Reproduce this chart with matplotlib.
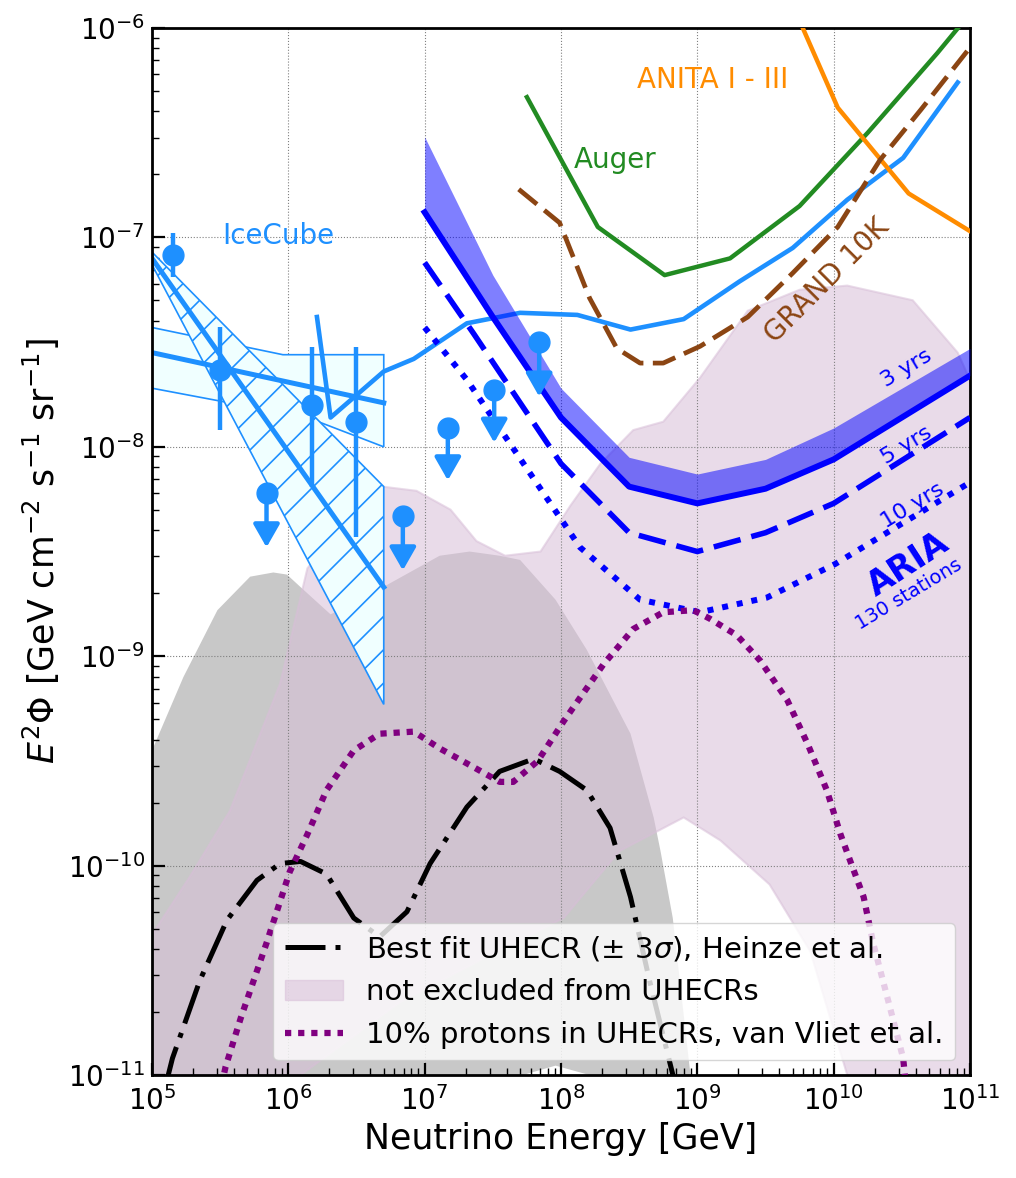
import numpy as np
import matplotlib
matplotlib.use('Agg')
import matplotlib.pyplot as plt
from matplotlib.patches import Patch
from matplotlib.lines import Line2D
from matplotlib import ticker

# values
# x: log10(E / GeV), y: log10(E^2 Phi / GeV cm^-2 s^-1 sr^-1)

#---------------- background regions ----------------
gray_top_x = [5.00, 5.23, 5.48, 5.72, 5.89, 5.99, 6.09, 6.31, 6.53, 6.75, 7.11, 7.33, 7.55, 7.70, 7.96, 8.19, 8.51, 8.68, 8.73, 8.82, 8.95]
gray_top_y = [-9.45, -9.10, -8.78, -8.62, -8.60, -8.61, -8.67, -8.80, -8.73, -8.65, -8.52, -8.50, -8.52, -8.54, -8.73, -8.97, -9.37, -9.77, -9.93, -10.25, -11.0]
gray_bot_x = [9.00, 8.25, 8.21, 7.96, 7.72, 7.68, 5.00]
gray_bot_y = [-11.3, -11.1, -11.0, -10.955, -11.0, -11.1, -11.3]

uhecr_top_x = [5.00, 5.28, 5.57, 5.94, 6.14, 6.42, 6.69, 6.94, 7.19, 7.38, 7.59, 7.85, 8.07, 8.29, 8.53, 8.75, 9.02, 9.37, 9.75, 10.10, 10.58, 10.91, 11.00]
uhecr_top_y = [-10.33, -10.05, -9.74, -9.13, -8.58, -8.35, -8.19, -8.21, -8.30, -8.45, -8.52, -8.50, -8.28, -8.08, -7.92, -7.88, -7.67, -7.35, -7.25, -7.23, -7.30, -7.55, -7.68]
uhecr_bot_x = [11.00, 10.15, 10.10, 9.83, 9.53, 9.17, 8.90, 8.43, 8.02, 7.41, 6.82, 6.09, 6.00, 5.00]
uhecr_bot_y = [-12.0, -11.3, -11.0, -10.41, -10.09, -9.88, -9.77, -9.93, -10.25, -10.45, -10.65, -11.0, -11.3, -12.0]

#---------------- IceCube ----------------
steep_x = [5.0, 6.7, 6.7, 5.0]
steep_y = [-7.07, -8.19, -9.23, -7.13]
steep_fit_x = [5.0, 6.7]
steep_fit_y = [-7.10, -8.67]

flat_x = [5.0, 5.96, 6.7, 6.7, 6.14, 5.0]
flat_y = [-7.43, -7.56, -7.56, -8.00, -7.86, -7.72]
flat_fit_x = [5.0, 6.7]
flat_fit_y = [-7.55, -7.79]

pts_x = [5.154, 5.50, 6.17, 6.50]
pts_y = [-7.085, -7.635, -7.80, -7.88]
pts_hi = [-6.98, -7.43, -7.525, -7.525]
pts_lo = [-7.19, -7.92, -8.19, -8.43]

ul_x = [5.84, 6.84, 7.17, 7.51, 7.84]
ul_y = [-8.22, -8.33, -7.91, -7.73, -7.50]
ul_tip = [-8.48, -8.59, -8.16, -7.98, -7.76]

ic_x = [6.21, 6.31, 6.70, 6.92, 7.31, 7.70, 8.12, 8.51, 8.90, 9.31, 9.70, 10.10, 10.51, 10.91]
ic_y = [-7.38, -7.86, -7.64, -7.58, -7.41, -7.36, -7.37, -7.44, -7.39, -7.21, -7.05, -6.82, -6.62, -6.26]

#---------------- other experiments ----------------
auger_x = [7.75, 8.27, 8.76, 9.24, 9.75, 10.25, 10.76, 10.95]
auger_y = [-6.33, -6.95, -7.18, -7.10, -6.85, -6.50, -6.12, -5.97]

anita_x = [9.74, 10.03, 10.55, 11.0]
anita_y = [-5.95, -6.38, -6.79, -6.97]

grand_x = [7.69, 7.99, 8.21, 8.41, 8.58, 8.75, 9.02, 9.37, 9.70, 10.03, 10.34, 10.64, 10.98]
grand_y = [-6.77, -6.93, -7.29, -7.53, -7.60, -7.60, -7.52, -7.38, -7.17, -6.95, -6.63, -6.39, -6.11]

#---------------- ARIA ----------------
aria_x = [7.0, 7.5, 8.0, 8.5, 9.0, 9.5, 10.0, 11.0]
aria_3yr = [-6.88, -7.38, -7.86, -8.19, -8.27, -8.20, -8.06, -7.66]
aria_3yr_top = [-6.52, -7.18, -7.72, -8.05, -8.13, -8.06, -7.91, -7.53]
aria5_x = [7.0, 7.36, 8.0, 8.5, 9.0, 9.5, 10.0, 11.0]
aria_5yr = [-7.12, -7.46, -8.08, -8.41, -8.50, -8.41, -8.27, -7.86]
aria10_x = [7.0, 7.31, 8.14, 8.58, 9.02, 9.51, 10.01, 11.0]
aria_10yr = [-7.43, -7.68, -8.48, -8.73, -8.79, -8.72, -8.56, -8.17]

#---------------- UHECR models ----------------
bf_x = [5.10, 5.15, 5.35, 5.55, 5.77, 5.94, 6.09, 6.28, 6.48, 6.67, 6.87, 7.04, 7.31, 7.55, 7.80, 7.99, 8.19, 8.36, 8.51, 8.65, 8.84]
bf_y = [-11.05, -10.92, -10.55, -10.26, -10.07, -9.99, -9.98, -10.04, -10.25, -10.34, -10.22, -9.99, -9.72, -9.55, -9.49, -9.55, -9.64, -9.82, -10.15, -10.55, -11.05]

pp_x = [5.51, 5.54, 5.65, 5.84, 6.01, 6.14, 6.28, 6.48, 6.67, 6.92, 7.11, 7.36, 7.55, 7.65, 7.83, 8.02, 8.31, 8.53, 8.75, 8.97, 9.09, 9.29, 9.46, 9.66, 9.81, 9.95, 10.05, 10.14, 10.22, 10.29, 10.51, 10.53]
pp_y = [-11.05, -10.96, -10.73, -10.37, -10.03, -9.85, -9.64, -9.45, -9.37, -9.36, -9.44, -9.53, -9.60, -9.60, -9.50, -9.31, -9.04, -8.87, -8.79, -8.78, -8.82, -8.90, -9.02, -9.21, -9.42, -9.64, -9.85, -10.01, -10.15, -10.37, -10.92, -11.05]

x_ticks = [5, 6, 7, 8, 9, 10, 11]
y_ticks = [-11, -10, -9, -8, -7, -6]


def p(v):
    return 10.0 ** np.asarray(v, dtype=float)


plt.rcParams['font.size'] = 20
plt.rcParams['hatch.linewidth'] = 1.2

fig = plt.figure(figsize=(10.16, 11.78), dpi=100)
ax = fig.add_axes([0.1496, 0.0874, 0.8051, 0.8888])
ax.set_xscale('log')
ax.set_yscale('log')

# regions
ax.fill(p(gray_top_x + gray_bot_x), p(gray_top_y + gray_bot_y), color='#c8c8c8', lw=0, zorder=0.5)
ax.fill(p(uhecr_top_x + uhecr_bot_x), p(uhecr_top_y + uhecr_bot_y),
        facecolor='thistle', edgecolor='thistle', alpha=0.55, lw=1.5, zorder=0.6)

# IceCube
ax.fill(p(flat_x), p(flat_y), facecolor='azure', edgecolor='dodgerblue', lw=1.2, zorder=2)
ax.fill(p(steep_x), p(steep_y), facecolor='azure', edgecolor='dodgerblue', hatch='/', lw=1.2, zorder=2.1)
ax.plot(p(flat_fit_x), p(flat_fit_y), color='dodgerblue', lw=3.6, zorder=2.2)
ax.plot(p(steep_fit_x), p(steep_fit_y), color='dodgerblue', lw=3.6, zorder=2.2)
ax.plot(p(ic_x), p(ic_y), color='dodgerblue', lw=3.3, zorder=2.3)

yv = p(pts_y)
ax.errorbar(p(pts_x), yv, yerr=[yv - p(pts_lo), p(pts_hi) - yv], fmt='o', color='dodgerblue',
            ms=15, elinewidth=3.2, capsize=0, zorder=5)
ax.plot(p(ul_x), p(ul_y), 'o', color='dodgerblue', ms=15, zorder=5)
for x, y0, y1 in zip(ul_x, ul_y, ul_tip):
    ax.annotate('', xy=(10 ** x, 10 ** y1), xytext=(10 ** x, 10 ** y0),
                arrowprops=dict(arrowstyle='-|>,head_length=0.56,head_width=0.32', color='dodgerblue',
                                lw=3.2, mutation_scale=25, shrinkA=0, shrinkB=0), zorder=5)

# other experiments
ax.plot(p(auger_x), p(auger_y), color='forestgreen', lw=3.2, zorder=3)
ax.plot(p(anita_x), p(anita_y), color='darkorange', lw=3.2, zorder=3)
ax.plot(p(grand_x), p(grand_y), color='saddlebrown', lw=3.4, ls=(0, (5, 2)), zorder=3)

# ARIA
ax.fill_between(p(aria_x), p(aria_3yr), p(aria_3yr_top), color='blue', alpha=0.5, lw=0, zorder=3)
ax.plot(p(aria_x), p(aria_3yr), color='blue', lw=4.3, zorder=4)
ax.plot(p(aria5_x), p(aria_5yr), color='blue', lw=4.0, ls=(0, (5, 2)), zorder=4)
ax.plot(p(aria10_x), p(aria_10yr), color='blue', lw=4.3, ls=(0, (1, 1.5)), zorder=4)

# UHECR models
bf_dash = (0, (8, 2, 1, 2))
pp_dash = (0, (1, 1.1))
ax.plot(p(bf_x), p(bf_y), color='black', lw=3.6, ls=bf_dash, zorder=4)
ax.plot(p(pp_x), p(pp_y), color='purple', lw=4.5, ls=pp_dash, zorder=4)

# labels
ax.text(10 ** 5.924, 10 ** -6.994, 'IceCube', color='dodgerblue', ha='center', va='center', fontsize=20)
ax.text(10 ** 8.397, 10 ** -6.631, 'Auger', color='forestgreen', ha='center', va='center', fontsize=20)
ax.text(10 ** 9.116, 10 ** -6.249, 'ANITA I - III', color='darkorange', ha='center', va='center', fontsize=20)
ax.text(10 ** 9.952, 10 ** -7.205, 'GRAND 10K', color='saddlebrown', ha='center', va='center',
        fontsize=20, rotation=45, rotation_mode='anchor')
ax.text(10 ** 10.532, 10 ** -7.625, '3 yrs', color='blue', ha='center', va='center', fontsize=16,
        rotation=31, rotation_mode='anchor')
ax.text(10 ** 10.532, 10 ** -7.993, '5 yrs', color='blue', ha='center', va='center', fontsize=16,
        rotation=31, rotation_mode='anchor')
ax.text(10 ** 10.576, 10 ** -8.280, '10 yrs', color='blue', ha='center', va='center', fontsize=16,
        rotation=31, rotation_mode='anchor')
ax.text(10 ** 10.55, 10 ** -8.56, 'ARIA', color='blue', ha='center', va='center', fontsize=24,
        fontweight='bold', rotation=33, rotation_mode='anchor')
ax.text(10 ** 10.55, 10 ** -8.705, '130 stations', color='blue', ha='center', va='center', fontsize=14,
        rotation=31, rotation_mode='anchor')

ax.set_xlim(1e5, 1e11)
ax.set_ylim(1e-11, 1e-6)
ax.set_xticks(p(x_ticks))
ax.set_yticks(p(y_ticks))
ax.xaxis.set_minor_locator(ticker.LogLocator(base=10, subs=np.arange(2, 10), numticks=20))
ax.yaxis.set_minor_locator(ticker.LogLocator(base=10, subs=np.arange(2, 10), numticks=20))
ax.xaxis.set_minor_formatter(ticker.NullFormatter())
ax.yaxis.set_minor_formatter(ticker.NullFormatter())
ax.tick_params(which='major', direction='in', length=9, width=1.6, labelsize=20)
ax.tick_params(which='minor', direction='in', length=5, width=1.0)
ax.tick_params(axis='x', which='major', pad=8)
ax.tick_params(axis='y', which='major', pad=5)
for s in ax.spines.values():
    s.set_linewidth(2)
ax.grid(which='major', ls=':', color='gray', lw=0.8)

ax.set_xlabel('Neutrino Energy [GeV]', fontsize=25)
ax.set_ylabel(r'$E^2\Phi$ [GeV cm$^{-2}$ s$^{-1}$ sr$^{-1}$]', fontsize=25)

handles = [Line2D([], [], color='black', lw=3.6, ls=bf_dash),
           Patch(facecolor='thistle', edgecolor='thistle', alpha=0.55),
           Line2D([], [], color='purple', lw=4.5, ls=pp_dash)]
labels = [r'Best fit UHECR ($\pm$ 3$\sigma$), Heinze et al.',
          'not excluded from UHECRs',
          '10% protons in UHECRs, van Vliet et al.']
leg = ax.legend(handles, labels, loc='lower right', fontsize=21)
leg.set_zorder(10)

fig.savefig('out.png', dpi=100)
